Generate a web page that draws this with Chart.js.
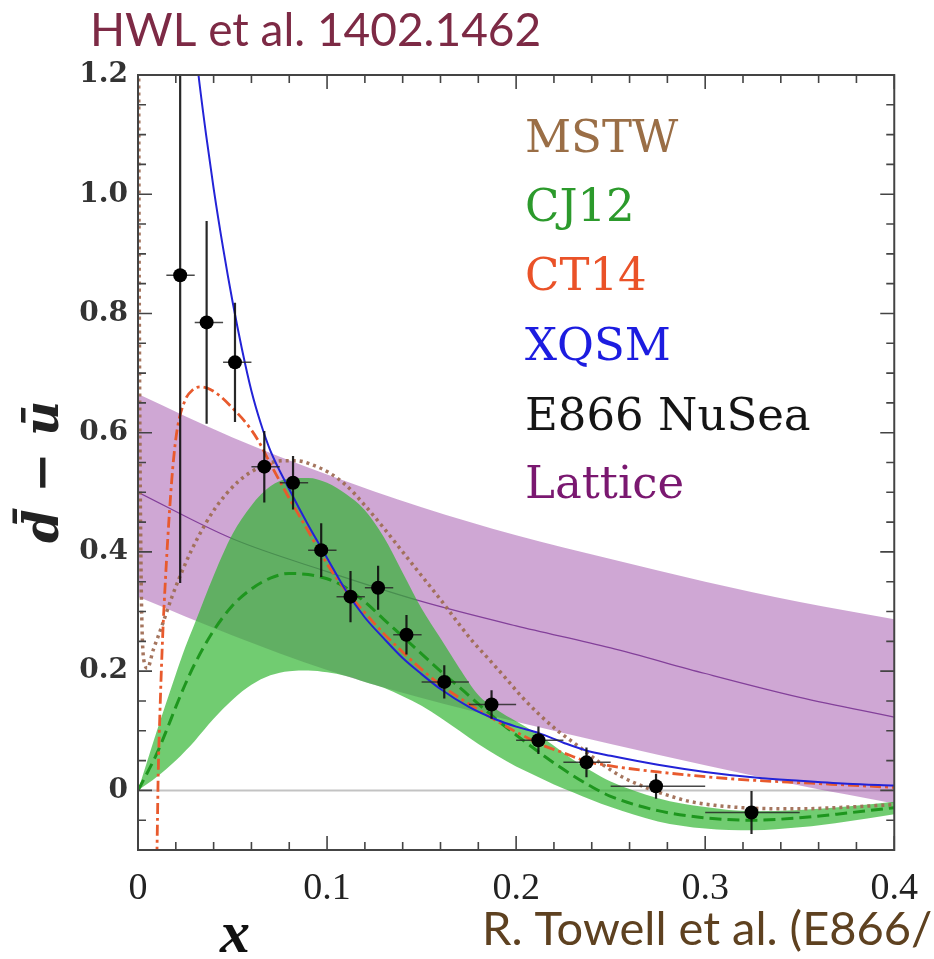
<!DOCTYPE html>
<html>
<head>
<meta charset="utf-8">
<script src="https://cdn.jsdelivr.net/npm/chart.js@4.4.0/dist/chart.umd.min.js"></script>
<style>
  html, body { margin: 0; padding: 0; background: #fff; }
  #wrap { width: 934px; height: 959px; }
</style>
</head>
<body>
<div id="wrap"><canvas id="chart" width="934" height="959"></canvas></div>
<script>
"use strict";

// axes
const xTicks = [0, 0.1, 0.2, 0.3, 0.4];
const xTickLabels = ["0", "0.1", "0.2", "0.3", "0.4"];
const yTicks = [0, 0.2, 0.4, 0.6, 0.8, 1.0, 1.2];
const yTickLabels = ["0", "0.2", "0.4", "0.6", "0.8", "1.0", "1.2"];

// E866 NuSea data points
const e866X   = [0.0223, 0.0363, 0.0513, 0.0668, 0.082, 0.0969, 0.1124, 0.127, 0.142, 0.162, 0.187, 0.2118, 0.2372, 0.274, 0.3245];
const e866Y   = [0.864, 0.785, 0.718, 0.543, 0.516, 0.403, 0.325, 0.340, 0.261, 0.182, 0.144, 0.084, 0.047, 0.007, -0.037];
const e866Err = [0.516, 0.17, 0.10, 0.06, 0.045, 0.045, 0.043, 0.037, 0.033, 0.028, 0.024, 0.023, 0.025, 0.021, 0.036];
const e866XLo = [0.015, 0.03, 0.045, 0.06, 0.075, 0.09, 0.105, 0.12, 0.135, 0.15, 0.175, 0.2, 0.225, 0.25, 0.3];
const e866XHi = [0.03, 0.045, 0.06, 0.075, 0.09, 0.105, 0.12, 0.135, 0.15, 0.175, 0.2, 0.225, 0.25, 0.3, 0.35];

// XQSM
const xqsmX = [0.028, 0.030, 0.032, 0.036, 0.04, 0.045, 0.05, 0.055, 0.06, 0.065, 0.07, 0.08, 0.09, 0.1, 0.11, 0.12, 0.13, 0.14, 0.15, 0.16, 0.175, 0.19, 0.2, 0.212, 0.225, 0.237, 0.25, 0.275, 0.3, 0.325, 0.35, 0.375, 0.4];
const xqsmY = [1.32, 1.26, 1.20, 1.10, 1.01, 0.91, 0.82, 0.74, 0.67, 0.615, 0.57, 0.505, 0.445, 0.39, 0.335, 0.29, 0.255, 0.222, 0.195, 0.17, 0.14, 0.118, 0.107, 0.096, 0.08, 0.067, 0.058, 0.043, 0.031, 0.022, 0.016, 0.011, 0.008];

// CT14
const ct14X = [0.0098, 0.0103, 0.0107, 0.0115, 0.013, 0.0148, 0.0166, 0.0185, 0.0207, 0.025, 0.029, 0.033, 0.038, 0.044, 0.051, 0.057, 0.063, 0.07, 0.08, 0.09, 0.1, 0.11, 0.12, 0.13, 0.14, 0.15, 0.16, 0.175, 0.19, 0.2, 0.213, 0.225, 0.237, 0.25, 0.275, 0.3, 0.325, 0.35, 0.375, 0.4];
const ct14Y = [-0.15, -0.05, 0.03, 0.12, 0.255, 0.37, 0.465, 0.545, 0.605, 0.655, 0.672, 0.677, 0.673, 0.66, 0.638, 0.617, 0.59, 0.548, 0.49, 0.435, 0.38, 0.335, 0.298, 0.263, 0.232, 0.203, 0.177, 0.145, 0.116, 0.098, 0.077, 0.063, 0.049, 0.041, 0.031, 0.023, 0.017, 0.013, 0.009, 0.005];

// MSTW
const mstwX = [0.0003, 0.0006, 0.001, 0.0015, 0.002, 0.003, 0.005, 0.008, 0.012, 0.018, 0.025, 0.031, 0.041, 0.053, 0.065, 0.077, 0.084, 0.093, 0.101, 0.11, 0.12, 0.13, 0.1425, 0.15, 0.16, 0.17, 0.177, 0.185, 0.194, 0.203, 0.212, 0.222, 0.2326, 0.245, 0.2565, 0.27, 0.28, 0.291, 0.305, 0.326, 0.35, 0.375, 0.4];
const mstwY = [1.3, 0.9, 0.6, 0.4, 0.29, 0.22, 0.205, 0.235, 0.27, 0.325, 0.38, 0.42, 0.474, 0.518, 0.543, 0.553, 0.553, 0.545, 0.533, 0.512, 0.478, 0.44, 0.39, 0.36, 0.32, 0.278, 0.25, 0.222, 0.19, 0.157, 0.128, 0.1, 0.075, 0.045, 0.022, 0.003, -0.008, -0.018, -0.025, -0.03, -0.031, -0.028, -0.024];

// CJ12 central value and band
const cj12X     = [0, 0.005, 0.01, 0.015, 0.02, 0.025, 0.03, 0.04, 0.05, 0.06, 0.07, 0.08, 0.09, 0.1, 0.11, 0.12, 0.13, 0.14, 0.15, 0.16, 0.17, 0.18, 0.19, 0.2, 0.21, 0.22, 0.23, 0.24, 0.25, 0.275, 0.3, 0.325, 0.35, 0.375, 0.4];
const cj12Y     = [0, 0.03, 0.062, 0.1, 0.14, 0.178, 0.212, 0.268, 0.31, 0.338, 0.356, 0.364, 0.362, 0.355, 0.34, 0.316, 0.287, 0.258, 0.229, 0.2, 0.173, 0.145, 0.118, 0.093, 0.069, 0.046, 0.025, 0.006, -0.01, -0.034, -0.046, -0.05, -0.046, -0.038, -0.029];
const cj12Upper = [0, 0.05, 0.1, 0.148, 0.195, 0.24, 0.28, 0.36, 0.43, 0.478, 0.51, 0.523, 0.524, 0.516, 0.497, 0.47, 0.425, 0.365, 0.305, 0.255, 0.205, 0.16, 0.135, 0.116, 0.097, 0.075, 0.052, 0.032, 0.015, -0.013, -0.028, -0.035, -0.033, -0.027, -0.019];
const cj12Lower = [0, 0.011, 0.023, 0.036, 0.05, 0.066, 0.083, 0.12, 0.152, 0.177, 0.193, 0.2, 0.201, 0.198, 0.192, 0.182, 0.172, 0.158, 0.142, 0.122, 0.1, 0.078, 0.058, 0.04, 0.025, 0.01, -0.003, -0.016, -0.028, -0.052, -0.064, -0.067, -0.062, -0.052, -0.04];

// Lattice
const latX      = [0, 0.05, 0.1, 0.15, 0.2, 0.25, 0.3, 0.35, 0.4];
const latCenter = [0.50, 0.422, 0.367, 0.317, 0.276, 0.239, 0.196, 0.156, 0.123];
const latUpper  = [0.665, 0.592, 0.53, 0.475, 0.428, 0.388, 0.35, 0.316, 0.287];
const latLower  = [0.325, 0.26, 0.202, 0.155, 0.115, 0.078, 0.042, 0.008, -0.022];

const pts = (xs, ys) => xs.map((v, i) => ({ x: v, y: ys[i] }));

const curve = (label, xs, ys, color, width, dash) => ({
    label: label,
    data: pts(xs, ys),
    borderColor: color,
    borderWidth: width,
    borderDash: dash || [],
    pointRadius: 0,
    fill: false,
    clip: 0,
    cubicInterpolationMode: 'monotone'
});

const decorations = {
    id: 'decorations',
    beforeDatasetDraw(chart, args) {
        if (args.index !== 0) return;
        const { ctx, chartArea: a, scales: { x, y } } = chart;
        ctx.save();
        ctx.beginPath();
        ctx.rect(a.left, a.top, a.right - a.left, a.bottom - a.top);
        ctx.clip();
        e866X.forEach((v, i) => {
            const px = x.getPixelForValue(v);
            const py = y.getPixelForValue(e866Y[i]);
            ctx.strokeStyle = 'rgba(15,15,15,0.9)';
            ctx.lineWidth = 2.2;
            ctx.beginPath();
            ctx.moveTo(px, y.getPixelForValue(e866Y[i] + e866Err[i]));
            ctx.lineTo(px, y.getPixelForValue(e866Y[i] - e866Err[i]));
            ctx.stroke();
            ctx.strokeStyle = 'rgba(40,40,40,0.85)';
            ctx.lineWidth = 1.5;
            ctx.beginPath();
            ctx.moveTo(x.getPixelForValue(e866XLo[i]), py);
            ctx.lineTo(x.getPixelForValue(e866XHi[i]), py);
            ctx.stroke();
        });
        ctx.restore();
    },
    afterDraw(chart) {
        const { ctx, chartArea: a, scales: { x, y } } = chart;
        ctx.save();
        // frame
        ctx.strokeStyle = '#444';
        ctx.lineWidth = 2;
        ctx.strokeRect(a.left, a.top, a.right - a.left, a.bottom - a.top);
        // inward ticks
        ctx.lineWidth = 1.6;
        for (let k = 0; k <= 20; k++) {
            const px = x.getPixelForValue(k * 0.02);
            const len = k % 5 === 0 ? 14 : 8;
            ctx.beginPath();
            ctx.moveTo(px, a.bottom); ctx.lineTo(px, a.bottom - len);
            ctx.moveTo(px, a.top); ctx.lineTo(px, a.top + len);
            ctx.stroke();
        }
        for (let k = -2; k <= 24; k++) {
            const py = y.getPixelForValue(k * 0.05);
            const len = k % 4 === 0 ? 14 : 8;
            ctx.beginPath();
            ctx.moveTo(a.left, py); ctx.lineTo(a.left + len, py);
            ctx.moveTo(a.right, py); ctx.lineTo(a.right - len, py);
            ctx.stroke();
        }

        // legend text
        const legend = [
            ['MSTW', '#9a6e46', 152],
            ['CJ12', '#2c9a2c', 221],
            ['CT14', '#ea5228', 290],
            ['XQSM', '#1c1ce0', 360],
            ['E866 NuSea', '#151515', 430],
            ['Lattice', '#7a1870', 498]
        ];
        ctx.font = '45px "DejaVu Serif"';
        ctx.textAlign = 'left';
        ctx.textBaseline = 'alphabetic';
        legend.forEach(([t, c, b]) => { ctx.fillStyle = c; ctx.fillText(t, 525, b); });

        // annotations
        ctx.font = '46px Lato';
        ctx.fillStyle = '#7d2a45';
        ctx.fillText('HWL et al. 1402.1462', 90, 46);
        ctx.fillStyle = '#5e4120';
        ctx.font = '47px Lato';
        ctx.fillText('R. Towell et al. (E866/NuSea)', 482, 945);

        // axis titles
        ctx.fillStyle = '#111';
        ctx.font = 'bold italic 60px "Liberation Serif"';
        ctx.fillText('x', 220, 952);
        ctx.save();
        ctx.translate(58, 472);
        ctx.rotate(-Math.PI / 2);
        ctx.textAlign = 'center';
        ctx.font = 'bold italic 48px "DejaVu Serif"';
        ctx.fillStyle = '#222';
        ctx.fillText('d\u0304 \u2212 u\u0304', 0, 0);
        ctx.restore();
        ctx.restore();
    }
};

const ctx = document.getElementById('chart').getContext('2d');

new Chart(ctx, {
    type: 'line',
    data: {
        datasets: [
            {
                label: 'E866 NuSea',
                data: pts(e866X, e866Y),
                showLine: false,
                pointRadius: 7,
                pointBackgroundColor: '#000',
                pointBorderWidth: 0,
                clip: 0
            },
            curve('XQSM', xqsmX, xqsmY, '#2323d7', 2),
            curve('CT14', ct14X, ct14Y, '#e85a2d', 2.8, [11, 4, 3, 4]),
            curve('MSTW', mstwX, mstwY, 'rgba(160,110,85,0.95)', 3.5, [3, 4]),
            curve('CJ12', cj12X, cj12Y, '#1e961e', 3, [12, 6]),
            Object.assign(curve('CJ12 upper', cj12X, cj12Upper, 'rgba(0,0,0,0)', 0),
                { fill: '+1', backgroundColor: 'rgba(45,180,45,0.68)' }),
            curve('CJ12 lower', cj12X, cj12Lower, 'rgba(0,0,0,0)', 0),
            curve('Lattice', latX, latCenter, '#83409a', 1.2),
            Object.assign(curve('Lattice upper', latX, latUpper, 'rgba(0,0,0,0)', 0),
                { fill: '+1', backgroundColor: 'rgba(160,80,170,0.5)' }),
            curve('Lattice lower', latX, latLower, 'rgba(0,0,0,0)', 0),
            curve('zero', [0, 0.4], [0, 0], '#c3c3c3', 2)
        ]
    },
    options: {
        responsive: false,
        animation: false,
        layout: { padding: { left: 0, right: 24, top: 75, bottom: 0 } },
        plugins: {
            legend: { display: false },
            tooltip: { enabled: false }
        },
        scales: {
            x: {
                type: 'linear',
                min: 0,
                max: 0.4,
                grid: { display: false, drawTicks: false },
                border: { display: false },
                afterFit: (s) => { s.height = 109; },
                afterBuildTicks: (s) => { s.ticks = xTicks.map(v => ({ value: v })); },
                ticks: {
                    padding: 16,
                    color: '#222',
                    maxRotation: 0,
                    font: { family: 'Liberation Serif', size: 38 },
                    callback: (value, index) => xTickLabels[index]
                }
            },
            y: {
                type: 'linear',
                min: -0.1,
                max: 1.2,
                grid: { display: false, drawTicks: false },
                border: { display: false },
                afterFit: (s) => { s.width = 138; },
                afterBuildTicks: (s) => { s.ticks = yTicks.map(v => ({ value: v })); },
                ticks: {
                    padding: 10,
                    color: '#333',
                    font: { family: 'DejaVu Serif', weight: 'bold', size: 28 },
                    callback: (value, index) => yTickLabels[index]
                }
            }
        }
    },
    plugins: [decorations]
});
</script>
</body>
</html>
